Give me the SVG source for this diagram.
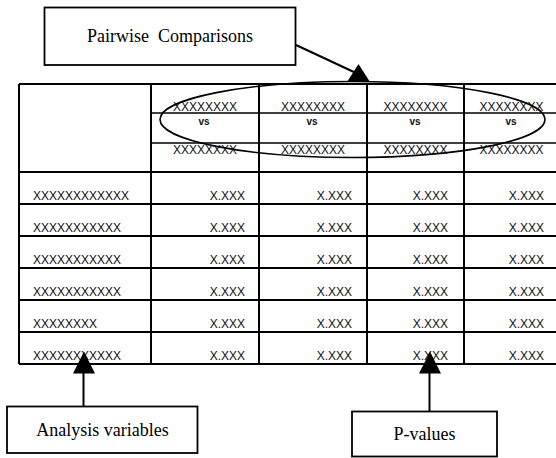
<svg xmlns="http://www.w3.org/2000/svg" width="556" height="458" viewBox="0 0 556 458">
<style>
.bg{fill:#fff}
.box{fill:#fff;stroke:#000;stroke-width:1.8}
.grid{stroke:#000;stroke-width:2;fill:none}
.sub{stroke:#000;stroke-width:1.6;fill:none}
.lbl{font-family:"Liberation Serif","Times New Roman",serif;font-size:18px;fill:#000;text-anchor:middle;white-space:pre}
.t{font-family:"Liberation Sans",Arial,sans-serif;font-size:12px;fill:#111}
.c{text-anchor:middle}
.r{text-anchor:end}
.vs{font-family:"Liberation Sans",Arial,sans-serif;font-size:10px;font-weight:bold;fill:#111;text-anchor:middle}
.ell{fill:none;stroke:#000;stroke-width:1.6}
.conn{stroke:#000;stroke-width:2;fill:none}
.head{fill:#000}
</style>
<rect class="bg" x="0" y="0" width="556" height="458"/>

<g id="table">
  <g id="grid">
    <path class="grid" d="M19,84 H560 M19,172 H560 M19,204 H560 M19,236 H560 M19,268 H560 M19,300 H560 M19,332 H560 M19,364 H560"/>
    <path class="grid" d="M19,84 V364 M151,84 V364 M259,84 V364 M367,84 V364 M464,84 V364"/>
    <path class="sub" d="M151,113 H560 M151,143 H560"/>
  </g>
  <g id="header-text">
    <text class="t c" x="205" y="111">XXXXXXXX</text>
    <text class="t c" x="313" y="111">XXXXXXXX</text>
    <text class="t c" x="415.5" y="111">XXXXXXXX</text>
    <text class="t c" x="511.5" y="111">XXXXXXXX</text>
    <text class="vs" x="204" y="124.5">vs</text>
    <text class="vs" x="312" y="124.5">vs</text>
    <text class="vs" x="415" y="124.5">vs</text>
    <text class="vs" x="511" y="124.5">vs</text>
    <text class="t c" x="205" y="153.5">XXXXXXXX</text>
    <text class="t c" x="313" y="153.5">XXXXXXXX</text>
    <text class="t c" x="415.5" y="153.5">XXXXXXXX</text>
    <text class="t c" x="511.5" y="153.5">XXXXXXXX</text>
  </g>
  <g id="row-labels">
    <text class="t" x="33" y="199.5">XXXXXXXXXXXX</text>
    <text class="t" x="33" y="231.5">XXXXXXXXXXX</text>
    <text class="t" x="33" y="263.5">XXXXXXXXXXX</text>
    <text class="t" x="33" y="295.5">XXXXXXXXXXX</text>
    <text class="t" x="33" y="327.5">XXXXXXXX</text>
    <text class="t" x="33" y="359.5">XXXXXXXXXXX</text>
  </g>
  <g id="p-values">
    <text class="t r" x="245" y="199.5">X.XXX</text><text class="t r" x="352" y="199.5">X.XXX</text><text class="t r" x="448" y="199.5">X.XXX</text><text class="t r" x="544" y="199.5">X.XXX</text>
    <text class="t r" x="245" y="231.5">X.XXX</text><text class="t r" x="352" y="231.5">X.XXX</text><text class="t r" x="448" y="231.5">X.XXX</text><text class="t r" x="544" y="231.5">X.XXX</text>
    <text class="t r" x="245" y="263.5">X.XXX</text><text class="t r" x="352" y="263.5">X.XXX</text><text class="t r" x="448" y="263.5">X.XXX</text><text class="t r" x="544" y="263.5">X.XXX</text>
    <text class="t r" x="245" y="295.5">X.XXX</text><text class="t r" x="352" y="295.5">X.XXX</text><text class="t r" x="448" y="295.5">X.XXX</text><text class="t r" x="544" y="295.5">X.XXX</text>
    <text class="t r" x="245" y="327.5">X.XXX</text><text class="t r" x="352" y="327.5">X.XXX</text><text class="t r" x="448" y="327.5">X.XXX</text><text class="t r" x="544" y="327.5">X.XXX</text>
    <text class="t r" x="245" y="359.5">X.XXX</text><text class="t r" x="352" y="359.5">X.XXX</text><text class="t r" x="448" y="359.5">X.XXX</text><text class="t r" x="544" y="359.5">X.XXX</text>
  </g>
  <ellipse id="comparison-ellipse" class="ell" cx="352.5" cy="119.5" rx="192.5" ry="38"/>
</g>

<g id="node-pairwise">
  <rect class="box" x="44.5" y="7.5" width="251" height="57.5"/>
  <text class="lbl" x="170" y="42" xml:space="preserve">Pairwise  Comparisons</text>
</g>
<g id="node-analysis">
  <rect class="box" x="7" y="406.5" width="190.5" height="46.5"/>
  <text class="lbl" x="102.5" y="436">Analysis variables</text>
</g>
<g id="node-pvalues">
  <rect class="box" x="352" y="411.5" width="145" height="45"/>
  <text class="lbl" x="424.5" y="440">P-values</text>
</g>

<g id="connectors">
  <path class="conn" d="M296,45 L356,73"/>
  <polygon class="head" points="358.5,64 347,82 370,82"/>
  <path class="conn" d="M83.5,406.5 V372"/>
  <polygon class="head" points="84,351.5 73,373.5 95,373.5"/>
  <path class="conn" d="M429.5,411.5 V372"/>
  <polygon class="head" points="430,351.5 419,373.5 441,373.5"/>
</g>
</svg>
